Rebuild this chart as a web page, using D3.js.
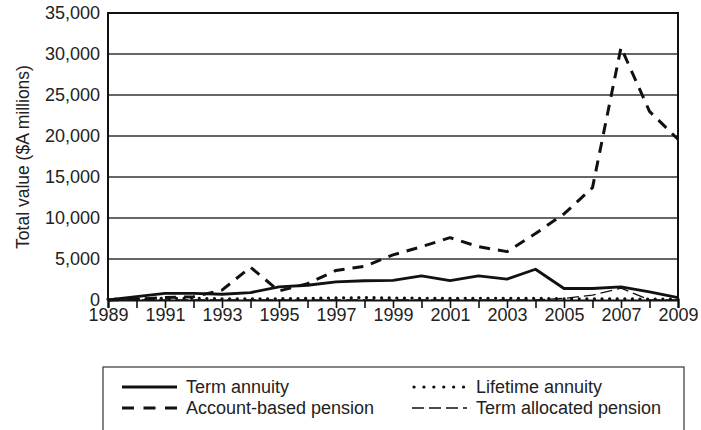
<!DOCTYPE html>
<html>
<head>
<meta charset="utf-8">
<script src="https://cdn.jsdelivr.net/npm/d3@7"></script>
<style>
  body { margin: 0; background: #fff; }
  svg { font-family: "Liberation Sans", Arial, sans-serif; }
</style>
</head>
<body>
<div id="chart"></div>
<script>
// 데이터
const years = d3.range(1989, 2010);
const termAnnuity = [0, 400, 800, 800, 700, 900, 1600, 1800, 2200, 2350, 2400, 2950, 2350, 2950, 2550, 3750, 1400, 1400, 1600, 1000, 300];
const lifetimeAnnuity = [100, 150, 200, 200, 150, 150, 150, 200, 250, 300, 250, 200, 200, 200, 200, 200, 150, 150, 150, 100, 100];
const accountBased = [0, 100, 300, 400, 1200, 4000, 1100, 2000, 3600, 4100, 5500, 6500, 7600, 6500, 5900, 8100, 10500, 13700, 30800, 23000, 19600];
const termAllocated = [0, 0, 0, 0, 0, 0, 0, 0, 0, 0, 0, 0, 0, 0, 0, 0, 200, 600, 1450, 0, 0];
const yTicks = [0, 5000, 10000, 15000, 20000, 25000, 30000, 35000];
const xLabels = d3.range(1989, 2010, 2);

const series = [
  { name: "Term annuity", values: termAnnuity, width: 2.8, dash: null, legendDash: null, cap: "butt" },
  { name: "Lifetime annuity", values: lifetimeAnnuity, width: 3.2, dash: "0.1,7.5", legendDash: "0.1,9.8", cap: "round" },
  { name: "Account-based pension", values: accountBased, width: 3, dash: "11,8", legendDash: "12,9.5", cap: "butt" },
  { name: "Term allocated pension", values: termAllocated, width: 1.3, dash: "12,5", legendDash: "12,5", cap: "butt" },
];

const svg = d3.select("#chart").append("svg").attr("width", 701).attr("height", 430);

const margin = { top: 13, left: 108, right: 23 };
const plotW = 701 - margin.left - margin.right;
const plotH = 300 - margin.top;

const x = d3.scaleLinear().domain([1989, 2009]).range([0, plotW]);
const y = d3.scaleLinear().domain([0, 35000]).range([plotH, 0]);

const g = svg.append("g").attr("transform", `translate(${margin.left},${margin.top})`);

// 격자선
g.selectAll(".grid")
  .data(yTicks.slice(1))
  .enter()
  .append("line")
  .attr("x1", 0)
  .attr("x2", plotW)
  .attr("y1", (d) => y(d))
  .attr("y2", (d) => y(d))
  .attr("stroke", "#333")
  .attr("stroke-width", 1.4);

// y축 라벨
g.selectAll(".ylab")
  .data(yTicks)
  .enter()
  .append("text")
  .attr("x", -8)
  .attr("y", (d) => y(d))
  .attr("dy", "0.36em")
  .attr("text-anchor", "end")
  .style("font-size", "18px")
  .attr("fill", "#222")
  .text((d) => d3.format(",")(d));

// 시리즈 선
const line = d3
  .line()
  .x((d, i) => x(years[i]))
  .y((d) => y(d));

series.forEach((s) => {
  g.append("path")
    .datum(s.values)
    .attr("d", line)
    .attr("fill", "none")
    .attr("stroke", "#111")
    .attr("stroke-width", s.width)
    .attr("stroke-dasharray", s.dash)
    .attr("stroke-linecap", s.cap)
    .attr("stroke-linejoin", "round");
});

// x축
const xAxis = d3
  .axisBottom(x)
  .tickValues(years)
  .tickSize(8)
  .tickFormat((d) => (xLabels.includes(d) ? d : ""));

const ax = g.append("g").attr("transform", `translate(0,${plotH})`).call(xAxis);
ax.select(".domain").attr("stroke", "#111").attr("stroke-width", 2.2);
ax.selectAll(".tick line").attr("stroke", "#111").attr("stroke-width", 1.6);
ax.selectAll(".tick text")
  .attr("y", 8)
  .style("font-size", "18px")
  .style("font-family", "Liberation Sans, Arial, sans-serif")
  .attr("fill", "#222");

// 테두리
g.append("path")
  .attr("d", `M0,${plotH}V0H${plotW}V${plotH}`)
  .attr("fill", "none")
  .attr("stroke", "#111")
  .attr("stroke-width", 2);

// y축 제목
svg
  .append("text")
  .attr("transform", "translate(29,157) rotate(-90)")
  .attr("text-anchor", "middle")
  .style("font-size", "17.5px")
  .attr("fill", "#222")
  .text("Total value ($A millions)");

// 범례
svg
  .append("rect")
  .attr("x", 103)
  .attr("y", 367)
  .attr("width", 581)
  .attr("height", 90)
  .attr("fill", "none")
  .attr("stroke", "#444")
  .attr("stroke-width", 1.3);

const legendPos = [
  { x: 122, y: 387 },
  { x: 412, y: 387 },
  { x: 122, y: 408 },
  { x: 412, y: 408 },
];

series.forEach((s, i) => {
  const p = legendPos[i];
  const lg = svg.append("g").attr("transform", `translate(${p.x},${p.y})`);
  lg.append("line")
    .attr("x1", s.cap === "round" ? 2 : 0)
    .attr("x2", 55)
    .attr("y1", 0)
    .attr("y2", 0)
    .attr("stroke", "#111")
    .attr("stroke-width", s.width)
    .attr("stroke-dasharray", s.legendDash)
    .attr("stroke-linecap", s.cap);
  lg.append("text")
    .attr("x", 64)
    .attr("y", 0)
    .attr("dy", "0.35em")
    .style("font-size", "18px")
    .attr("fill", "#222")
    .text(s.name);
});
</script>
</body>
</html>
